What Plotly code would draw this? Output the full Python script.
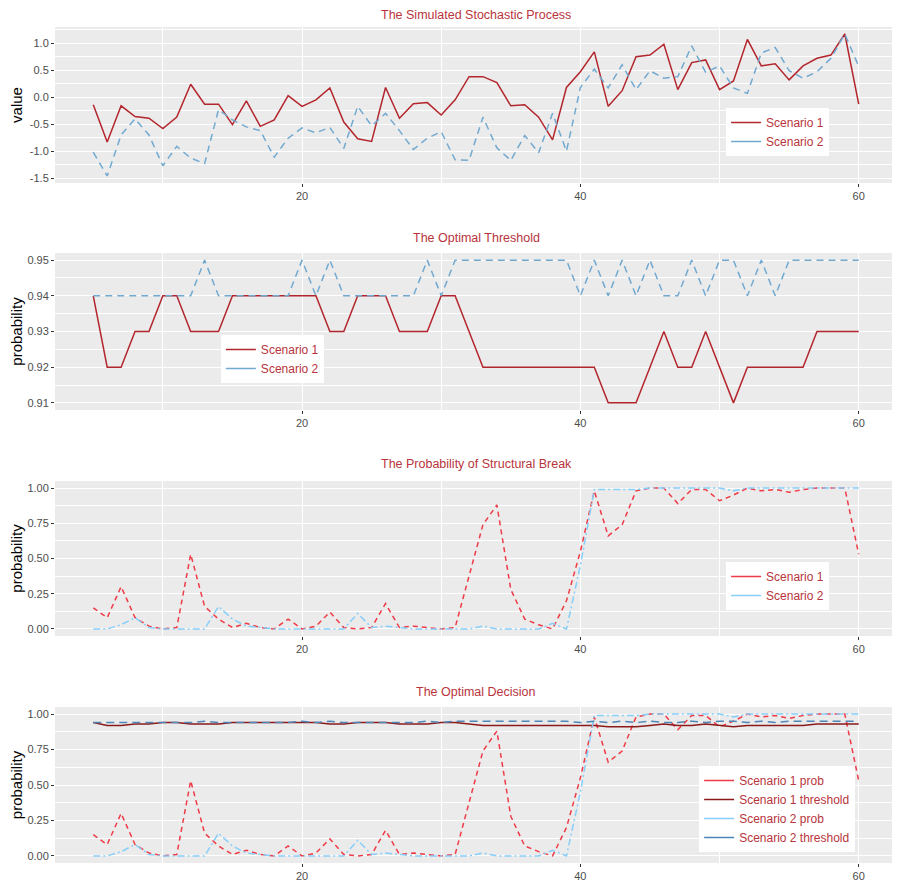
import plotly.graph_objects as go

# ---------------- data ----------------
t = list(range(5, 61))

process_s1 = [-0.14, -0.83, -0.16, -0.36, -0.39, -0.58, -0.37, 0.24, -0.13, -0.13,
              -0.51, -0.07, -0.54, -0.42, 0.03, -0.17, -0.05, 0.17, -0.46, -0.77,
              -0.82, 0.18, -0.39, -0.12, -0.10, -0.33, -0.05, 0.38, 0.38, 0.27,
              -0.16, -0.14, -0.37, -0.79, 0.18, 0.47, 0.84, -0.17, 0.12, 0.75,
              0.78, 0.98, 0.14, 0.64, 0.69, 0.14, 0.30, 1.07, 0.58, 0.62,
              0.32, 0.58, 0.72, 0.78, 1.17, -0.13]
process_s2 = [-1.02, -1.46, -0.70, -0.40, -0.70, -1.27, -0.91, -1.13, -1.23, -0.23,
              -0.42, -0.55, -0.62, -1.11, -0.76, -0.57, -0.66, -0.56, -0.95, -0.17,
              -0.53, -0.30, -0.62, -0.97, -0.76, -0.64, -1.16, -1.17, -0.37, -0.94,
              -1.17, -0.71, -1.03, -0.30, -1.00, 0.18, 0.52, 0.17, 0.60, 0.14,
              0.49, 0.35, 0.38, 0.95, 0.46, 0.58, 0.17, 0.07, 0.82, 0.92,
              0.49, 0.35, 0.47, 0.72, 1.17, 0.57]

threshold_s1 = [0.94, 0.92, 0.92, 0.93, 0.93, 0.94, 0.94, 0.93, 0.93, 0.93,
                0.94, 0.94, 0.94, 0.94, 0.94, 0.94, 0.94, 0.93, 0.93, 0.94,
                0.94, 0.94, 0.93, 0.93, 0.93, 0.94, 0.94, 0.93, 0.92, 0.92,
                0.92, 0.92, 0.92, 0.92, 0.92, 0.92, 0.92, 0.91, 0.91, 0.91,
                0.92, 0.93, 0.92, 0.92, 0.93, 0.92, 0.91, 0.92, 0.92, 0.92,
                0.92, 0.92, 0.93, 0.93, 0.93, 0.93]
threshold_s2 = [0.94, 0.94, 0.94, 0.94, 0.94, 0.94, 0.94, 0.94, 0.95, 0.94,
                0.94, 0.94, 0.94, 0.94, 0.94, 0.95, 0.94, 0.95, 0.94, 0.94,
                0.94, 0.94, 0.94, 0.94, 0.95, 0.94, 0.95, 0.95, 0.95, 0.95,
                0.95, 0.95, 0.95, 0.95, 0.95, 0.94, 0.95, 0.94, 0.95, 0.94,
                0.95, 0.94, 0.94, 0.95, 0.94, 0.95, 0.95, 0.94, 0.95, 0.94,
                0.95, 0.95, 0.95, 0.95, 0.95, 0.95]

prob_s1 = [0.15, 0.08, 0.30, 0.08, 0.02, 0.00, 0.01, 0.53, 0.16, 0.07,
           0.01, 0.04, 0.01, 0.00, 0.07, 0.00, 0.02, 0.12, 0.01, 0.00,
           0.01, 0.18, 0.01, 0.02, 0.01, 0.00, 0.01, 0.38, 0.74, 0.88,
           0.28, 0.07, 0.03, 0.00, 0.20, 0.55, 0.98, 0.66, 0.74, 0.98,
           1.00, 1.00, 0.89, 0.99, 0.99, 0.91, 0.95, 1.00, 0.98, 0.99,
           0.97, 0.99, 1.00, 1.00, 1.00, 0.53]
prob_s2 = [0.00, 0.00, 0.03, 0.08, 0.01, 0.00, 0.00, 0.00, 0.00, 0.16,
           0.07, 0.02, 0.01, 0.00, 0.00, 0.00, 0.00, 0.00, 0.00, 0.11,
           0.01, 0.02, 0.01, 0.00, 0.00, 0.00, 0.00, 0.00, 0.02, 0.00,
           0.00, 0.00, 0.00, 0.04, 0.00, 0.45, 0.99, 0.99, 0.99, 0.99,
           1.00, 1.00, 1.00, 1.00, 1.00, 1.00, 0.98, 1.00, 1.00, 1.00,
           1.00, 1.00, 1.00, 1.00, 1.00, 1.00]

titles = ["The Simulated Stochastic Process", "The Optimal Threshold",
          "The Probability of Structural Break", "The Optimal Decision"]
y_titles = ["value", "probability", "probability", "probability"]

x_ticks = [20, 40, 60]
y1_ticks = [-1.5, -1.0, -0.5, 0.0, 0.5, 1.0]
y1_labels = ["-1.5", "-1.0", "-0.5", "0.0", "0.5", "1.0"]
y2_ticks = [0.91, 0.92, 0.93, 0.94, 0.95]
y2_labels = ["0.91", "0.92", "0.93", "0.94", "0.95"]
y3_ticks = [0.0, 0.25, 0.5, 0.75, 1.0]
y3_labels = ["0.00", "0.25", "0.50", "0.75", "1.00"]

# ---------------- styling ----------------
FONT = "Liberation Sans, Arial, Helvetica, sans-serif"
TITLE_COL = "#b8343c"
C_S1 = "#b3262d"
C_S2 = "#72a9d0"
C_P1 = "#ef3b47"
C_P2 = "#87cefa"
C_T1 = "#8b1a1a"
C_T2 = "#4f86b8"

fig = go.Figure()

def add(x, y, color, dash, name, xa, ya, lg, width=1.5):
    fig.add_trace(go.Scatter(x=x, y=y, mode="lines", name=name,
                             line=dict(color=color, dash=dash, width=width),
                             xaxis=xa, yaxis=ya, showlegend=False, hoverinfo="x+y+name"))
    # legend key drawn solid as in the original
    fig.add_trace(go.Scatter(x=[None], y=[None], mode="lines", name=name,
                             line=dict(color=color, width=width),
                             xaxis=xa, yaxis=ya, legend=lg, showlegend=True))

add(t, process_s1, C_S1, "solid", "Scenario 1", "x", "y", "legend")
add(t, process_s2, C_S2, "7px,5px", "Scenario 2", "x", "y", "legend")

add(t, threshold_s1, C_S1, "solid", "Scenario 1", "x2", "y2", "legend2")
add(t, threshold_s2, C_S2, "7px,5px", "Scenario 2", "x2", "y2", "legend2")

add(t, prob_s1, C_P1, "5px,4px", "Scenario 1", "x3", "y3", "legend3")
add(t, prob_s2, C_P2, "7px,3px,2px,3px", "Scenario 2", "x3", "y3", "legend3")

add(t, prob_s1, C_P1, "5px,4px", "Scenario 1 prob", "x4", "y4", "legend4")
add(t, threshold_s1, C_T1, "solid", "Scenario 1 threshold", "x4", "y4", "legend4")
add(t, prob_s2, C_P2, "7px,3px,2px,3px", "Scenario 2 prob", "x4", "y4", "legend4")
add(t, threshold_s2, C_T2, "8px,5px", "Scenario 2 threshold", "x4", "y4", "legend4")

# ---------------- layout ----------------
# page body has an 8px margin: figure pixel = window pixel - 8
H_TOP, H_BOT = 27, 863
def py(p):
    return (H_BOT - p) / (H_BOT - H_TOP)

domains = [[py(183), py(27)], [py(410), py(253)], [py(636), py(481)], [py(863), py(707)]]
title_y = [py(14.5), py(238), py(464), py(692)]

tick_font = dict(family=FONT, size=11, color="#4d4d4d")

def xaxis(anchor):
    return dict(range=[2.25, 62.75], tickvals=x_ticks, ticktext=[str(v) for v in x_ticks],
                showgrid=True, gridcolor="white", gridwidth=1.2, zeroline=False,
                ticks="outside", ticklen=3, tickcolor="#333333", tickwidth=1,
                tickfont=tick_font, anchor=anchor, showline=False,
                minor=dict(tickmode="linear", tick0=0, dtick=10, showgrid=True,
                           gridcolor="white", gridwidth=0.5, ticks=""))

def yaxis(anchor, dom, rng, tv, tt, minor_dt, title):
    return dict(domain=dom, range=rng, tickvals=tv, ticktext=tt, anchor=anchor,
                showgrid=True, gridcolor="white", gridwidth=1.2, zeroline=False,
                ticks="outside", ticklen=3, tickcolor="#333333", tickwidth=1,
                tickfont=tick_font, showline=False,
                title=dict(text=title, font=dict(family=FONT, size=15, color="black"), standoff=6),
                minor=dict(tickmode="linear", tick0=0, dtick=minor_dt, showgrid=True,
                           gridcolor="white", gridwidth=0.5, ticks=""))

legend_common = dict(bgcolor="white", borderwidth=0, xanchor="left", yanchor="top",
                     font=dict(family=FONT, size=12, color=TITLE_COL),
                     itemwidth=30, tracegroupgap=0)

fig.update_layout(
    width=892, height=877,
    margin=dict(l=42, r=3, t=19, b=22),
    paper_bgcolor="white", plot_bgcolor="#ebebeb",
    font=dict(family=FONT),
    xaxis=xaxis("y"), xaxis2=xaxis("y2"), xaxis3=xaxis("y3"), xaxis4=xaxis("y4"),
    yaxis=yaxis("x", domains[0], [-1.59, 1.30], y1_ticks, y1_labels, 0.25, y_titles[0]),
    yaxis2=yaxis("x2", domains[1], [0.908, 0.952], y2_ticks, y2_labels, 0.005, y_titles[1]),
    yaxis3=yaxis("x3", domains[2], [-0.05, 1.05], y3_ticks, y3_labels, 0.125, y_titles[2]),
    yaxis4=yaxis("x4", domains[3], [-0.05, 1.05], y3_ticks, y3_labels, 0.125, y_titles[3]),
    legend=dict(legend_common, x=0.797, y=py(108)),
    legend2=dict(legend_common, x=0.197, y=py(335)),
    legend3=dict(legend_common, x=0.797, y=py(562)),
    legend4=dict(legend_common, x=0.765, y=py(766)),
    showlegend=True,
)

for i, ttl in enumerate(titles):
    fig.add_annotation(text=ttl, xref="paper", yref="paper", x=0.5, y=title_y[i],
                       xanchor="center", yanchor="middle", showarrow=False,
                       font=dict(family=FONT, size=12.5, color=TITLE_COL))

fig.write_html("out.html")
